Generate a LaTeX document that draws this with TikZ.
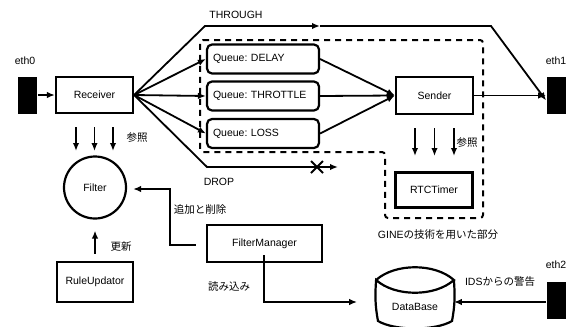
\documentclass[tikz,border=0pt]{standalone}
\usepackage{fontspec}
\setmainfont{Liberation Sans}
\newfontfamily\jp{Noto Sans CJK JP}
\usetikzlibrary{arrows.meta}

\begin{document}
\begin{tikzpicture}[x=1pt, y=-1pt,
  font=\fontsize{10.5}{12}\selectfont\frenchspacing,
  line width=1.8pt,
  box/.style={draw, line width=2.2pt, minimum width=77pt, minimum height=36pt, inner sep=0pt},
  queue/.style={draw, line width=2.2pt, rounded corners=5pt, text width=100pt, align=left,
                inner xsep=6pt, inner ysep=0pt, minimum height=29pt},
  port/.style={fill=black, draw=none, minimum width=19pt, minimum height=37pt, inner sep=0pt},
  arr/.style={-{Latex[length=8pt,width=6.5pt]}},
  lbl/.style={inner sep=0pt},
  region/.style={draw, line width=2pt, dash pattern=on 6pt off 5pt, rounded corners=3pt},
]
\useasboundingbox (0,0) rectangle (571,327);

% ports
\node[port] (eth0) at (27.5,95) {};
\node[port] (eth1) at (556.5,95.5) {};
\node[port] (eth2) at (556.5,300) {};
\node[lbl] at (25,61) {eth0};
\node[lbl] at (556,61) {eth1};
\node[lbl] at (556,265) {eth2};

% GINE part
\draw[region] (200,40) -- (483,40) -- (483,218) -- (385,218) -- (385,152) -- (200,152) -- cycle;
\node[lbl] at (438,235) {GINE{\jp の技術を用いた部分}};

% main blocks
\node[box] (recv) at (94.5,95) {Receiver};
\node[queue] (qd) at (263,59) {Queue: DELAY};
\node[queue] (qt) at (263,96) {Queue: THROTTLE};
\node[queue] (ql) at (263,133.5) {Queue: LOSS};
\node[box, minimum height=37pt] (send) at (434.5,95.5) {Sender};
\node[box, minimum height=35pt] (rtc) at (434,190) {RTCTimer};
\node[draw, circle, line width=2.2pt, minimum size=62pt, inner sep=0pt] (filter) at (95,187.5) {Filter};
\node[box, minimum width=76pt, minimum height=40pt] (rule) at (95,282) {RuleUpdator};
\node[box, minimum width=115pt, minimum height=37pt] (fm) at (264.5,243.5) {FilterManager};

% database drum
\node[lbl, minimum width=76pt, minimum height=50pt] (db) at (415,300) {};
\node[lbl] at (415,307) {DataBase};
\draw[line width=2.2pt] (db.west |- 0,280) .. controls (395,263) and (435,263) .. (db.east |- 0,280)
  .. controls (435,297) and (395,297) .. (db.west |- 0,280)
  .. controls (375,295) and (375,305) .. (378,321)
  .. controls (395,331) and (435,331) .. (452,321)
  .. controls (455,305) and (455,295) .. (db.east |- 0,280);

% packet flow
\draw[arr] (eth0) -- (recv);
\draw[arr] (recv.east) -- (qd.west);
\draw[arr] (recv.east) -- (qt.west);
\draw[arr] (recv.east) -- (ql.west);
\draw[arr] (qd.east) -- (send.west);
\draw[arr] (qt.east) -- (send.west);
\draw[arr] (ql.east) -- (send.west);
\draw[arr] (send) -- (eth1);

% THROUGH path
\coordinate (thrA) at (205,26);
\coordinate (thrB) at (320,26);
\coordinate (thrC) at (491,26);
\draw[arr] (recv.east) -- (thrA) -- (thrB);
\draw[arr] (thrB) -- (thrC) -- ([yshift=-5pt]eth1.west);
\node[lbl] at (236,15) {THROUGH};

% DROP path
\coordinate (drA) at (207,167);
\coordinate (drB) at (338,167);
\draw[arr] (recv.east) -- (drA) -- (drB);
\draw[line width=2pt] (311,161) -- (323,173) (311,173) -- (323,161);
\node[lbl] at (219,182) {DROP};

% lookups
\foreach \x in {76,94.5,113}
  \draw[arr] (\x,127) -- (\x,151);
\node[lbl] at (137,138) {\jp 参照};
\foreach \x in {415,434.5,454}
  \draw[arr] (\x,128) -- (\x,156);
\node[lbl] at (467,143) {\jp 参照};

% filter management
\draw[arr, shorten <=7pt, shorten >=11pt] (rule.north) -- (filter.south);
\node[lbl] at (121,247) {\jp 更新};
\coordinate (fmA) at (170,245);
\coordinate (fmB) at (170,189);
\draw[arr, shorten >=6pt] ([xshift=-10pt]fm.west |- 0,245) -- (fmA) -- (fmB) -- (filter.east |- fmB);
\node[lbl] at (200,209) {\jp 追加と削除};

% database access
\coordinate (rdA) at (264,302);
\draw[arr, shorten >=19pt] ([yshift=8pt]fm.south -| rdA) -- (rdA) -- (db.west |- rdA);
\node[lbl] at (229,287) {\jp 読み込み};
\draw[arr] (eth2.west |- 0,302) -- (db.east |- 0,302);
\node[lbl] at (500,282) {IDS{\jp からの警告}};
\end{tikzpicture}
\end{document}
